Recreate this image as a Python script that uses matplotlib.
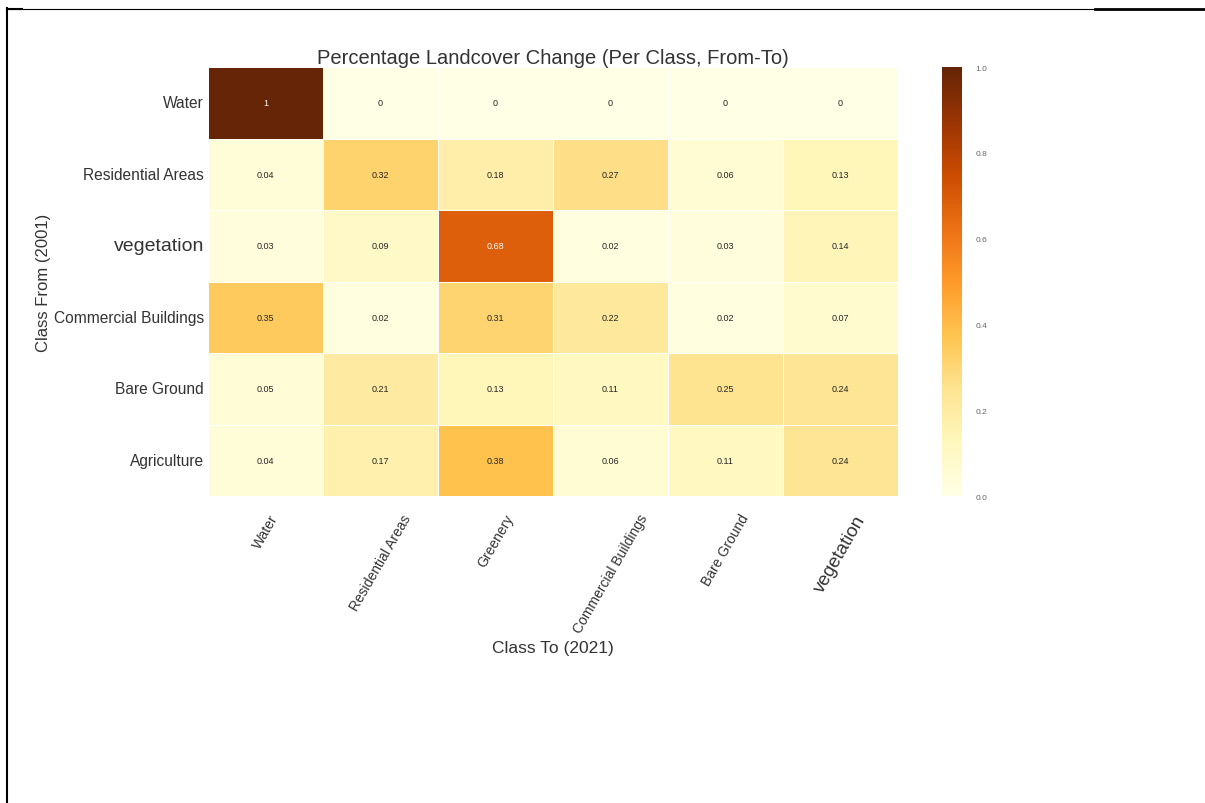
import matplotlib
matplotlib.use("Agg")
import matplotlib.pyplot as plt
from matplotlib.lines import Line2D
import numpy as np
import seaborn as sns

class_from = ["Water", "Residential Areas", "vegetation",
              "Commercial Buildings", "Bare Ground", "Agriculture"]
class_to = ["Water", "Residential Areas", "Greenery",
            "Commercial Buildings", "Bare Ground", "vegetation"]

water = [1, 0, 0, 0, 0, 0]
residential = [0.04, 0.32, 0.18, 0.27, 0.06, 0.13]
vegetation = [0.03, 0.09, 0.68, 0.02, 0.03, 0.14]
commercial = [0.35, 0.02, 0.31, 0.22, 0.02, 0.07]
bare_ground = [0.05, 0.21, 0.13, 0.11, 0.25, 0.24]
agriculture = [0.04, 0.17, 0.38, 0.06, 0.11, 0.24]

change = np.array([water, residential, vegetation,
                   commercial, bare_ground, agriculture])

plt.rcParams['font.family'] = ['Liberation Sans', 'DejaVu Sans']
txt = '#333333'

fig = plt.figure(figsize=(12.05, 8.04), dpi=100)
ax = fig.add_axes([0.1726, 0.3818, 0.5726, 0.5336])
cax = fig.add_axes([0.7817, 0.3818, 0.0166, 0.5336])

sns.heatmap(change, ax=ax, cbar_ax=cax, cmap='YlOrBr', vmin=0, vmax=1,
            annot=True, annot_kws={'fontsize': 6.5},
            linewidths=0.5, linecolor='white',
            xticklabels=class_to, yticklabels=class_from)

ax.set_title('Percentage Landcover Change (Per Class, From-To)',
             fontsize=14.5, color=txt, pad=3)
ax.set_xlabel('Class To (2021)', fontsize=12.5, color=txt)
ax.set_ylabel('Class From (2001)', fontsize=12, color=txt)
ax.xaxis.set_label_coords(0.5, -0.335)
ax.yaxis.set_label_coords(-0.228, 0.5)

ax.tick_params(axis='y', length=0, pad=3)
ax.tick_params(axis='x', length=0, pad=11)
for lbl in ax.get_xticklabels():
    lbl.set_rotation(60)
    lbl.set_ha('center')
    lbl.set_color(txt)
    lbl.set_fontsize(13.5 if lbl.get_text() == 'vegetation' else 10)
for lbl in ax.get_yticklabels():
    lbl.set_rotation(0)
    lbl.set_color(txt)
    lbl.set_fontsize(14 if lbl.get_text() == 'vegetation' else 11.2)

cax.tick_params(length=0, labelsize=6, labelcolor='#666666', pad=10)
cax.set_yticks([0, 0.2, 0.4, 0.6, 0.8, 1.0])
cax.set_yticklabels(['0.0', '0.2', '0.4', '0.6', '0.8', '1.0'])
for s in cax.spines.values():
    s.set_visible(False)

# frame lines around the page
W, H = 1205, 804
def px_line(x0, y0, x1, y1, lw):
    fig.add_artist(Line2D([x0 / W, x1 / W], [1 - y0 / H, 1 - y1 / H],
                          transform=fig.transFigure, color='black', lw=lw))

px_line(7, 9.5, 1095, 9.5, 0.8)
px_line(1095, 10, 1205, 10, 2)
px_line(7.5, 9, 7.5, 804, 1.5)
px_line(7, 10, 22, 10, 1.5)

fig.savefig('out.png', dpi=100, facecolor='white')
